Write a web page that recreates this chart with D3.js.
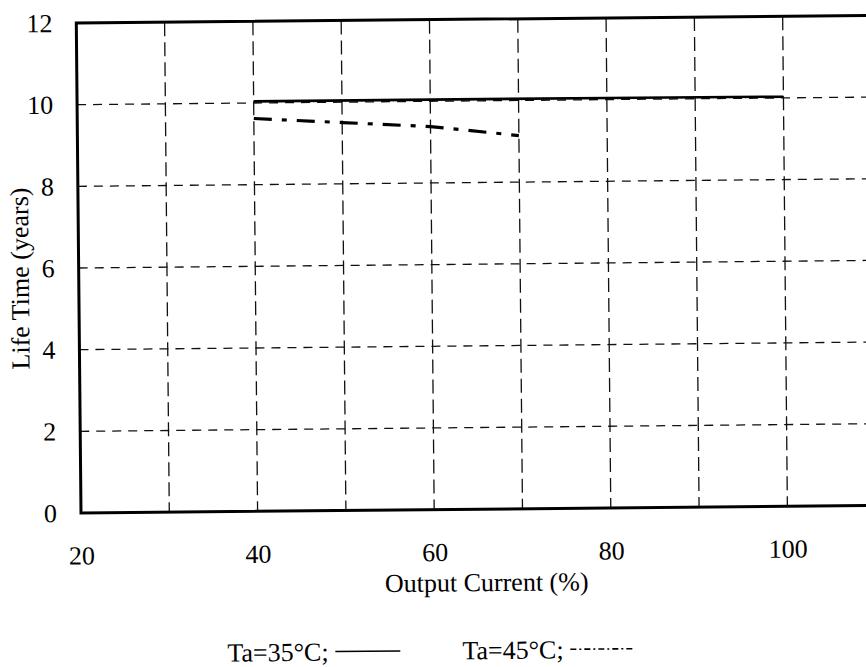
<!DOCTYPE html>
<html>
<head>
<meta charset="utf-8">
<script src="https://cdn.jsdelivr.net/npm/d3@7"></script>
<style>
  body { margin: 0; background: #fff; }
  svg { display: block; }
  text { font-family: "Liberation Serif", "DejaVu Serif", serif; fill: #000; }
</style>
</head>
<body>
<svg id="chart" width="866" height="667"></svg>
<script>
// data
var xTicks = [20, 40, 60, 80, 100]
var xGrid = [30, 40, 50, 60, 70, 80, 90, 100]
var yTicks = [0, 2, 4, 6, 8, 10, 12]
var yGrid = [2, 4, 6, 8, 10]
var current35 = [40, 60, 80, 100]
var life35 = [10.04, 10.04, 10.04, 10.03]
var current45 = [40, 50, 60, 70]
var life45 = [9.62, 9.5, 9.38, 9.14]
var legendLabels = ["Ta=35°C;", "Ta=45°C;"]

var width = 866,
	height = 667
var x0 = 81, y0 = 513
var svg = d3.select("#chart")
// the scanned chart is turned a little, so the whole drawing is too
var g = svg.append("g")
	.attr("transform", "rotate(-0.55," + x0 + "," + y0 + ")")

var x = d3.scaleLinear().domain([20, 110]).range([x0, x0 + 90 * 8.83])
var y = d3.scaleLinear().domain([0, 12]).range([y0, 23])

// grid
g.selectAll(".vgrid")
	.data(xGrid)
	.enter()
	.append("line")
	.attr("class", "vgrid")
	.attr("x1", function (d) { return x(d) })
	.attr("x2", function (d) { return x(d) })
	.attr("y1", y(12))
	.attr("y2", y(0))
	.attr("stroke", "#111")
	.attr("stroke-width", 1.3)
	.attr("stroke-dasharray", "14,6")

g.selectAll(".hgrid")
	.data(yGrid)
	.enter()
	.append("line")
	.attr("class", "hgrid")
	.attr("x1", x(20))
	.attr("x2", x(110))
	.attr("y1", function (d) { return y(d) })
	.attr("y2", function (d) { return y(d) })
	.attr("stroke", "#111")
	.attr("stroke-width", 1.3)
	.attr("stroke-dasharray", "9,7")

// frame
g.append("rect")
	.attr("x", x(20))
	.attr("y", y(12))
	.attr("width", x(110) - x(20))
	.attr("height", y(0) - y(12))
	.attr("fill", "none")
	.attr("stroke", "#000")
	.attr("stroke-width", 3)

// axes (labels only)
var xAxis = g.append("g")
	.attr("transform", "translate(0," + (y0 + 30) + ")")
	.call(d3.axisBottom(x).tickValues(xTicks).tickSize(0).tickFormat(d3.format("d")))
xAxis.select(".domain").remove()
xAxis.selectAll("text")
	.style("font-family", "Liberation Serif")
	.style("font-size", "26px")
	.attr("fill", "#000")
	.attr("dy", "0.71em")

var yAxis = g.append("g")
	.attr("transform", "translate(" + (x0 - 24) + ",0)")
	.call(d3.axisLeft(y).tickValues(yTicks).tickSize(0).tickFormat(d3.format("d")))
yAxis.select(".domain").remove()
yAxis.selectAll("text")
	.style("font-family", "Liberation Serif")
	.style("font-size", "26px")
	.attr("fill", "#000")
	.attr("x", 0)

// titles
g.append("text")
	.attr("x", 486)
	.attr("y", 595)
	.attr("text-anchor", "middle")
	.style("font-size", "26px")
	.text("Output Current (%)")

g.append("text")
	.attr("transform", "translate(31,278) rotate(-90)")
	.attr("text-anchor", "middle")
	.style("font-size", "26px")
	.text("Life Time (years)")

// series
var line = d3.line()
	.x(function (d) { return x(d[0]) })
	.y(function (d) { return y(d[1]) })

g.append("path")
	.datum(d3.zip(current35, life35))
	.attr("d", line)
	.attr("fill", "none")
	.attr("stroke", "#000")
	.attr("stroke-width", 2.6)

g.append("path")
	.datum(d3.zip(current45, life45))
	.attr("d", line)
	.attr("fill", "none")
	.attr("stroke", "#000")
	.attr("stroke-width", 3.2)
	.attr("stroke-dasharray", "18,10,5,10")

// legend
var legendX = [226, 461]
var legend = g.selectAll(".legend")
	.data(legendLabels)
	.enter()
	.append("g")
	.attr("class", "legend")
	.attr("transform", function (d, i) { return "translate(" + legendX[i] + ",663)" })

legend.append("text")
	.style("font-size", "26px")
	.text(function (d) { return d })

legend.append("line")
	.attr("x1", 108)
	.attr("x2", 173)
	.attr("y1", -9)
	.attr("y2", -9)
	.attr("stroke", "#000")
	.attr("stroke-width", 1.6)
	.attr("stroke-dasharray", function (d, i) { return i == 0 ? null : "6,3,2,3" })
</script>
</body>
</html>
